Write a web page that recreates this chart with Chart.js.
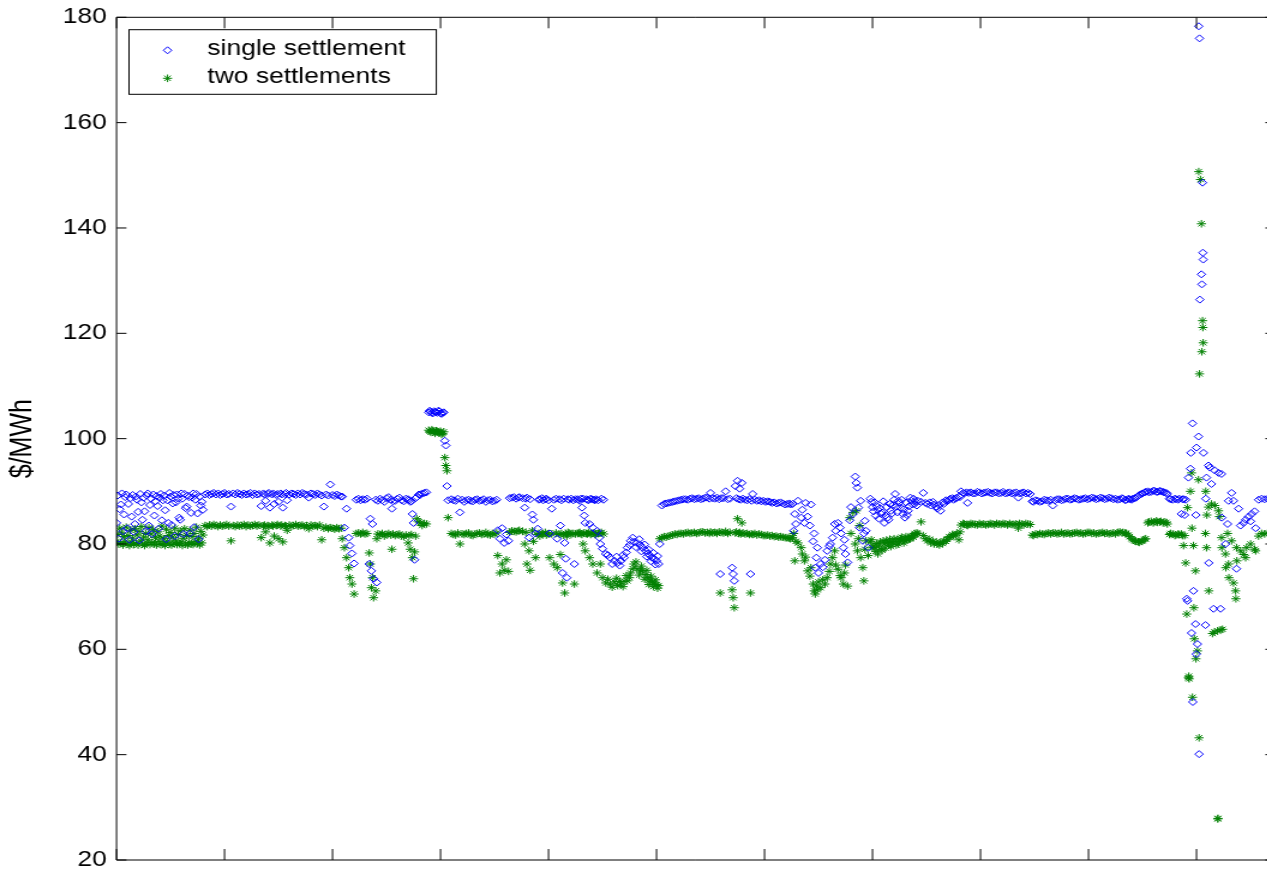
<!DOCTYPE html>
<html>
<head>
<meta charset="utf-8">
<script src="https://cdn.jsdelivr.net/npm/chart.js@4.4.0/dist/chart.umd.min.js"></script>
<style>
html, body { margin: 0; padding: 0; background: #ffffff; width: 1267px; height: 873px; overflow: hidden; }
#wrap { position: absolute; left: 0; top: 0; width: 1070px; height: 873px; transform: scaleX(1.2); transform-origin: 0 0; }
canvas { display: block; }
</style>
</head>
<body>
<div id="wrap"><canvas id="chart" width="1070" height="873"></canvas></div>
<script>
// ================= data: hour index and price ($/MWh) =================
// A: mixed start
const hoursA = [0,1,2,3,4,5,6,7,8,9,10,11,12,13,14,15,16,17,18,19,20,21,22,23,24,25,26,27,28,29,30,31,32,33,34,35,36,37,38,39,
  40,41,42,43,44,45,46,47,48,49,50,51,52,53,54,55,56,57,58,59,60,61,62,63,64,65,66,67,68,69,70,71,72,73,74,75,76,77,78,79,80];
const singleA = [84.0,89.2,81.0,86.6,87.5,89.6,82.4,85.6,88.9,89.4, 83.0,87.6,80.8,88.7,85.2,89.3,82.3,83.8,89.0,88.4,
  86.1,80.7,89.5,87.9,84.6,88.8,86.2,82.4,89.2,89.6, 83.5,87.4,88.6,81.9,89.4,85.4,88.1,89.1,87.2,82.9,
  88.8,89.5,84.5,88.3,89.2,86.4,80.9,88.3,84.0,89.7, 89.0,83.6,87.7,89.3,81.5,87.9,89.4,88.6,85.0,84.6,
  89.6,88.6,81.9,89.5,86.8,87.1,89.2,88.9,82.0,85.9, 88.8,89.6,83.2,88.4,89.5,85.8,80.9,89.0,87.3,88.0, 86.5];
const twoA = [80.5,81.8,80.0,83.0,80.2,82.1,79.8,81.4,80.4,83.2, 80.0,81.6,79.7,82.6,80.3,81.1,79.9,82.9,80.1,81.7,
  79.8,82.4,80.6,83.3,80.0,81.3,79.7,82.0,80.2,80.8, 83.1,79.9,81.9,80.3,82.7,80.0,81.2,79.8,82.3,80.5,
  81.5,79.9,83.4,80.1,81.0,79.7,82.8,80.4,81.6,80.0, 82.2,79.8,81.3,80.2,83.0,80.6,79.9,81.8,80.1,82.5,
  80.4,79.7,81.1,82.9,80.0,81.6,79.8,80.3,82.6,80.0, 81.4,79.9,82.0,80.5,83.2,80.1,81.0,79.8,82.4,80.2, 81.7];

// B: first flat block
const hoursB = [82,84,86,88,90,92,94,96,98,100, 102,104,106,108,110,112,114,116,118,120, 122,124,126,128,130,132,134,136,137,138,
  140,141,142,144,145,146,148,149,150,152, 153,154,156,157,158,160,162,164,166,168, 170,172,174,176,178,180,182,184,186,188,
  190,192,194,196,198,200,202,204,206,208];
const singleB = [89.4,89.6,89.3,89.5,89.7,89.4,89.6,89.3,89.5,89.7, 89.4,89.5,87.1,89.6,89.4,89.7,89.5,89.3,89.6,89.4,
  89.5,89.7,89.3,89.6,89.4,89.5,87.2,89.6,89.4,88.2, 89.5,89.7,86.9,89.4,89.6,87.6,89.3,89.5,88.0,89.6,
  89.4,86.9,89.5,89.7,88.3,89.4,89.6,89.5,89.3,89.6, 89.4,89.7,89.5,89.4,88.8,89.6,89.5,89.3,89.6,89.4,
  89.2,87.1,89.4,89.2,91.3,89.3,89.1,89.4,89.2,89.0];
const twoB = [83.5,83.3,83.6,83.4,83.7,83.5,83.3,83.6,83.4,83.5, 83.7,83.4,80.6,83.5,83.3,83.6,83.4,83.5,83.7,83.3,
  83.6,83.4,83.5,83.7,83.4,83.6,81.2,83.4,83.6,82.3, 83.5,83.3,80.2,83.6,83.4,81.5,83.5,83.7,81.0,83.4,
  83.6,80.4,83.5,83.3,82.6,83.6,83.4,83.5,83.7,83.4, 83.5,83.6,83.3,83.5,82.9,83.6,83.4,83.5,83.3,83.6,
  80.8,83.0,83.2,82.9,83.1,83.0,82.8,83.1,82.9,83.0];

// C: first dips
const hoursC = [209,211,213,215,216,218,220,222,224,226, 228,230,232,234,235,236,237,238,240,241,
  242,244,246,248,250,252,254,255,256,258, 260,262,264,266,268,270,271,272,273,274, 275,276,277,278,280,281,283,285,287];
const singleC = [89.0,83.1,86.7,81.2,79.7,78.2,76.3,88.4,88.6,88.3, 88.5,88.4,88.6,76.2,84.8,74.9,83.8,73.4,88.4,72.7,
  88.2,88.6,88.3,88.0,88.7,88.9,88.4,86.7,88.1,88.2, 88.6,88.8,88.3,88.1,88.6,88.5,88.3,88.0,88.1,85.7,
  84.0,77.0,88.7,88.9,89.4,89.3,89.6,89.7,89.8];
const twoC = [81.0,79.3,77.4,75.5,73.6,72.4,70.5,82.0,82.1,81.9, 82.2,81.9,82.0,78.3,76.2,71.7,73.6,69.8,71.1,81.0,
  81.9,81.8,82.0,81.5,81.8,82.0,81.7,79.0,81.9,81.6, 81.8,81.9,81.5,81.4,81.7,80.2,81.6,79.0,81.8,77.4,
  73.4,78.5,81.5,84.8,84.2,84.0,83.5,83.9,83.8];

// D: short peak near 105
const hoursD = [289,290,291,292,293,294,295,296,297,298, 299,300,301,302,303,304,305,306,307];
const singleD = [105.0,105.3,105.1,104.9,104.8,105.2,105.1,105.0,104.9,105.3, 105.2,104.8,104.7,104.9,105.0,99.6,98.7,91.0,88.3];
const twoD = [101.6,101.4,101.2,101.7,101.5,101.3,101.0,101.5,101.4,101.2, 101.1,101.4,100.8,101.0,101.3,96.4,94.9,93.9,85.0];

// E
const hoursE = [310,312,314,316,318,320,322,324,326,328, 330,332,334,336,338,340,342,344,346,348,
  350,352,353,355,357,359,361,363,364,366, 368,370,372,373];
const singleE = [88.5,88.3,88.2,88.6,86.0,88.4,88.0,88.3,88.4,88.2, 88.1,88.4,88.5,88.2,88.3,88.5,88.0,88.3,88.4,88.1,
  88.2,88.4,82.6,81.0,83.0,80.2,81.8,80.6,88.7,88.8, 88.9,88.6,88.8,88.9];
const twoE = [82.0,81.8,81.7,82.1,80.0,81.9,81.8,82.0,82.1,81.7, 81.6,81.9,82.0,82.1,81.8,81.9,82.2,81.8,81.7,82.0,
  81.9,82.1,77.8,74.5,76.2,75.0,77.0,74.8,82.2,82.5, 82.4,82.3,82.5,82.6];

// F
const hoursF = [376,378,379,380,382,383,385,386,388,390, 391,392,394,395,397,398,400,401,403,405,
  407,408,410,411,412,413,414,415,416,417, 418,419,421,423,424,425];
const singleF = [88.7,86.9,88.6,88.8,81.2,88.5,85.6,84.6,82.0,82.9, 88.4,88.5,88.7,88.3,88.5,88.6,88.3,82.0,86.7,88.4,
  88.6,81.0,88.5,83.5,88.3,74.5,88.6,80.2,77.2,73.6, 88.5,88.4,88.6,88.3,76.2,88.5];
const twoF = [82.4,80.0,82.2,76.2,78.7,75.0,82.5,80.5,77.4,81.8, 82.0,81.5,81.9,82.0,82.2,81.7,81.9,77.4,81.9,76.2,
  82.1,75.5,81.8,78.0,82.0,72.6,81.7,70.7,82.0,81.5, 82.2,82.1,81.8,82.0,72.4,81.9];

// G: low stretch
const hoursG = [427,428,429,430,431,432,433,434,435,436, 437,438,439,440,441,442,443,444,445,446,
  447,448,449,450,451,453,455,457,459,461, 463,464,466,467,469,470,472,473,475,476,
  478,479,481,482,484,485,486,487,489,490, 491,492,493,494,495,496,497,498,499,500, 501,502,503,505,507];
const singleG = [88.5,88.4,88.2,88.6,86.9,88.6,85.4,84.0,88.5,88.4, 88.3,83.8,88.6,88.5,83.1,88.4,88.3,88.5,82.5,88.3,
  81.2,80.0,88.6,79.1,88.4,78.1,77.9,77.4,76.2,76.8, 77.6,76.4,75.9,76.8,77.9,77.4,78.4,79.3,79.8,80.6,
  81.2,80.4,79.4,80.2,80.9,79.8,78.6,79.3,79.9,78.7, 77.6,78.2,78.9,77.8,76.7,77.4,78.3,77.2,76.1,76.8, 77.7,76.2,80.0,87.3,87.6];
const twoG = [82.0,82.1,82.2,81.9,81.8,80.0,82.1,78.7,82.0,81.9, 82.2,77.4,81.8,82.0,76.2,82.1,81.8,81.9,74.5,82.0,
  82.1,76.2,82.2,73.6,81.9,72.6,73.3,72.4,71.8,72.8, 73.5,72.1,72.9,72.4,71.9,72.9,74.0,73.0,73.6,74.5,
  75.3,76.2,76.6,75.3,74.1,74.9,75.8,74.9,73.3,74.2, 75.0,73.6,72.3,73.0,73.9,72.8,71.9,72.6,73.2,72.3, 71.6,72.1,81.0,81.2,81.4];

// H
const hoursH = [509,511,513,515,517,519,521,523,525,527, 529,531,533,535,537,539,541,543,545,547,
  549,550,552,554,556,558,559,560,562,564, 566,568,570,571,572,573,574,575,576,577,
  578,579,580,582,584,586,587,588,589,591, 593,595,597,599,601,603,605,607,609,611, 613,615,617,619,621,623,624];
const singleH = [87.7,87.8,87.9,88.0,88.1,88.2,88.3,88.4,88.5,88.5, 88.4,88.6,88.7,88.5,88.6,88.7,88.5,88.6,88.8,88.8,
  88.6,89.7,88.7,88.6,88.8,88.5,74.3,88.7,88.7,90.0, 88.5,88.6,75.5,74.3,73.0,91.0,88.7,92.0,88.5,90.5,
  88.4,91.6,88.6,88.4,88.3,88.5,74.3,88.2,89.5,88.4, 88.2,88.3,88.1,88.2,88.0,88.1,88.0,87.8,87.9,87.7, 87.8,87.9,87.7,87.5,87.6,87.7,87.5];
const twoH = [81.3,81.5,81.6,81.7,81.9,81.8,82.0,82.0,81.9,82.1, 82.2,82.0,82.1,82.2,82.0,82.1,82.3,82.3,82.1,82.2,
  82.0,82.3,82.1,82.2,82.0,82.3,70.7,82.2,82.1,82.4, 82.0,82.2,71.3,69.8,67.9,82.1,82.3,84.8,82.0,82.2,
  81.9,84.0,82.1,81.9,82.0,81.8,70.7,81.9,81.8,82.0, 81.7,81.9,81.8,81.6,81.6,81.7,81.5,81.6,81.4,81.5, 81.3,81.4,81.3,81.2,81.2,81.1,81.0];

// I: second dip
const hoursI = [626,627,628,629,631,634,635,637,638,640, 642,643,645,646,647,648,649,650,652,654,
  656,658,660,661,663,665,666,668,670,671, 673,674,675,677,679,680,682,684,685,686,
  687,688,689,691,692,693,694,696,698,699, 700,701,702,703,704,705,706,707,708,709,
  710,711,712,713,714,715,716,717,718,719, 720,721,722,723,724,725,726,727,728,729,
  730,731,732,733,734,735,736,737,738,739, 740,741,742];
const singleI = [87.6,82.5,85.7,83.8,88.2,85.0,86.5,84.0,87.8,85.2, 83.5,87.5,80.5,82.0,75.5,77.4,79.3,74.5,76.2,75.6,
  77.0,78.7,79.6,80.0,81.2,83.8,82.5,84.0,83.1,82.0, 79.3,80.8,78.1,76.5,84.5,87.0,85.7,92.8,91.6,90.7,
  86.9,83.1,88.2,80.6,82.0,84.4,82.5,79.3,88.6,88.0, 87.0,86.2,87.9,85.4,87.2,86.5,84.8,86.8,85.7,86.0,
  88.1,84.0,85.4,87.0,85.0,84.6,87.6,86.3,85.8,87.4, 88.4,89.5,87.1,86.0,88.2,87.8,86.9,88.4,85.7,86.6,
  85.0,87.9,85.5,86.3,87.2,88.8,88.2,87.5,88.6,87.6, 88.0,87.3,88.2];
const twoI = [81.2,82.0,76.8,80.5,80.2,79.3,78.1,76.8,77.5,74.9, 73.9,75.5,72.4,71.1,70.5,72.0,71.3,72.8,71.7,73.2,
  72.4,73.6,74.8,76.2,77.4,78.7,76.0,75.2,74.0,73.6, 72.4,74.5,76.0,72.0,85.0,82.0,86.0,80.0,86.3,78.7,
  81.0,83.5,77.4,75.5,73.0,79.0,80.6,77.8,80.4,80.8, 79.3,79.6,79.3,78.6,80.1,78.1,79.6,80.4,79.0,78.8,
  80.6,80.0,79.2,80.7,80.3,79.8,80.9,79.5,80.4,80.2, 81.0,80.5,79.8,80.9,80.0,80.4,81.0,81.3,80.8,80.2,
  80.6,81.4,80.8,81.2,80.9,81.0,81.5,81.6,81.3,82.0, 81.8,82.1,82.0];

// J
const hoursJ = [745,747,749,751,753,754,756,757,759,760, 762,763,765,766,768,769,771,772,774,775,
  777,778,780,781,782,784,785,787,788,789, 791,793,795,797,799,801,803,805,807,809,
  811,813,815,817,819,821,823,825,827,829, 831,833,835,836,838,840,842,844,846];
const singleJ = [88.0,89.7,87.8,87.6,87.9,87.3,88.0,87.5,87.1,86.7, 87.4,86.3,87.9,87.6,88.3,88.1,88.4,88.6,88.7,88.4,
  88.6,88.8,89.0,88.9,90.0,89.7,89.6,89.8,87.8,89.7, 89.8,89.6,89.6,89.9,89.8,89.6,89.7,89.8,89.9,89.7,
  89.6,89.8,89.8,89.6,89.7,89.9,89.6,89.7,89.8,89.6, 89.7,89.8,88.8,89.6,89.7,89.8,89.6,89.7,89.5];
const twoJ = [84.2,81.6,81.0,80.6,80.9,80.2,80.5,80.0,80.4,80.0, 79.8,80.3,80.1,80.6,80.5,80.9,81.4,81.2,81.8,81.6,
  81.7,82.0,80.8,82.3,83.6,83.9,83.8,83.6,83.5,83.7, 83.9,83.8,83.7,83.6,83.9,83.7,83.8,83.6,83.7,83.9,
  83.8,83.6,83.9,83.8,83.7,83.9,83.8,83.6,83.9,83.7, 83.7,83.8,83.0,83.9,83.8,83.6,83.9,83.8,83.7];

// K
const hoursK = [848,849,851,853,855,857,859,861,863,865, 867,869,871,873,875,877,879,881,883,885,
  887,889,891,893,895,897,899,901,903,905, 907,909,911,913,915,917,919,921,923,925,
  927,929,931,932,934,935,937,938,940,941, 943,944,946,947,949,950,952,953,955,956,
  958,960,961,963,964,966,967,969,970,972, 973,975,976,978,980,981,983,984,986,987, 988,989];
const singleK = [88.1,88.0,88.3,88.2,88.0,88.1,88.4,88.3,88.2,88.4, 87.3,88.3,88.5,88.5,88.3,88.4,88.6,88.6,88.4,88.5,
  88.7,88.6,88.4,88.5,88.6,88.7,88.5,88.6,88.8,88.7, 88.5,88.6,88.8,88.7,88.5,88.6,88.8,88.7,88.5,88.6,
  88.4,88.5,88.7,88.6,88.3,88.4,88.6,88.5,88.4,88.6, 88.7,88.8,89.1,89.3,89.5,89.6,89.8,89.9,90.0,89.8,
  89.9,90.1,90.1,89.9,89.9,90.1,90.0,89.9,89.8,89.7, 89.5,88.6,88.5,88.4,88.6,88.5,88.4,88.6,85.7,88.5, 88.5,85.5];
const twoK = [81.7,81.6,81.9,81.8,82.0,81.9,81.8,82.0,82.1,81.9, 82.1,82.1,81.9,82.0,82.2,81.9,82.0,82.1,81.9,82.0,
  82.1,82.2,82.0,82.1,81.9,82.0,82.2,82.2,82.0,82.1, 81.9,82.0,82.1,82.2,82.0,82.1,81.9,82.0,82.1,81.9,
  82.2,82.3,82.1,82.2,82.1,82.0,81.7,81.4,81.0,80.8, 80.6,80.5,80.4,80.3,80.5,80.6,80.9,81.0,84.0,84.2,
  84.3,84.0,84.2,84.4,84.1,84.2,84.3,84.0,84.2,84.1, 83.8,81.8,82.0,81.9,81.6,81.7,81.9,81.8,81.9,81.6, 79.7,81.6];

// L: price spike
const hoursL = [990,991,991.7,992.6,992.9,993.2,994.4,994.8,995.4,995.8, 996.3,996.6,997.2,997.6,998,999.1,999.5,999.8,1000,1000.9,
  1001.9,1002.1,1002.4,1002.8,1003.1,1003.7,1004.6,1005,1005.6,1005.9, 1006.2,1006.5,1008.3,1008.6,1009.3,1009.6,1011.1,1011.4,1012.5,1013.9,
  1014.8,1015.8,1016.7,1017,1019.5,1019.7,1019.9,1020.4,1021.3,1022.3, 1023.2,1023.5,1024.1,1026.9,1027.2,1028.8,1029.7,1030,1032.5,1034.3,
  1036.2,1036.5,1037.1,1037.4,1039,1040.8,1043.6,1045.5,1046.4,1048.3, 1050.1,1051.1,1053.8,1054.8,1057.5,1060.3,1063.1,1065.9,1068.6];
const singleL = [88.4,69.6,69.2,92.6,null,null,94.3,97.3,63.1,null, 102.9,50.0,71.1,null,null,64.8,85.5,59.1,98.3,61.0,
  100.4,178.3,40.1,176.0,126.4,null,131.2,129.3,148.6,135.3, 134.0,97.3,64.6,88.6,92.6,null,94.9,76.4,94.5,91.4,
  null,67.7,94.0,null,null,null,null,93.5,null,67.7, 93.3,85.0,null,80.0,null,83.8,88.2,null,89.7,88.2,
  null,null,75.3,null,86.7,83.5,84.0,84.6,null,85.2, 84.3,85.7,86.2,83.0,88.4,88.6,88.5,88.6,88.5];
const twoL = [76.4,66.7,86.9,54.6,54.9,54.4,90.0,null,93.5,83.0, 50.9,null,79.7,67.9,62.0,74.9,58.2,null,null,59.7,
  92.2,150.7,43.2,112.3,null,149.2,140.8,116.5,122.4,121.1, 118.2,null,82.0,90.0,79.3,85.5,87.0,71.1,null,87.6,
  63.0,null,63.3,87.3,63.5,27.8,27.9,86.3,85.2,63.7, 81.2,79.3,63.8,78.1,75.5,82.0,76.2,73.6,80.6,72.6,
  71.1,69.6,79.3,76.8,null,78.7,78.0,77.4,79.3,null, 80.0,null,79.0,78.7,81.5,82.0,81.9,82.1,82.0];

const yTicks = [20, 40, 60, 80, 100, 120, 140, 160, 180];
const xTicks = [0, 100, 200, 300, 400, 500, 600, 700, 800, 900, 1000];
const seriesLabels = ['single settlement', 'two settlements'];
const yAxisTitle = '$/MWh';

// ================= assemble =================
const hourSets = [hoursA, hoursB, hoursC, hoursD, hoursE, hoursF, hoursG, hoursH, hoursI, hoursJ, hoursK, hoursL];
const singleSets = [singleA, singleB, singleC, singleD, singleE, singleF, singleG, singleH, singleI, singleJ, singleK, singleL];
const twoSets = [twoA, twoB, twoC, twoD, twoE, twoF, twoG, twoH, twoI, twoJ, twoK, twoL];
hourSets.forEach((h, i) => {
  if (h.length !== singleSets[i].length || h.length !== twoSets[i].length) {
    throw new Error('segment ' + i + ' length mismatch: ' + h.length + '/' + singleSets[i].length + '/' + twoSets[i].length);
  }
});
const hours = [].concat(...hourSets);
const singleSettlement = [].concat(...singleSets);
const twoSettlements = [].concat(...twoSets);

const FONT = '"Liberation Sans", Arial, Helvetica, sans-serif';
Chart.defaults.font.family = FONT;

function toPoints(vals) {
  return hours.map((h, i) => ({ x: h, y: vals[i] }));
}

function drawMarker(ctx, style, x, y, r, color) {
  ctx.save();
  ctx.strokeStyle = color;
  ctx.lineWidth = 1;
  ctx.beginPath();
  if (style === 'rectRot') {
    ctx.moveTo(x, y - r); ctx.lineTo(x + r, y); ctx.lineTo(x, y + r); ctx.lineTo(x - r, y); ctx.closePath();
  } else {
    const d = r * Math.SQRT1_2;
    ctx.moveTo(x, y - r); ctx.lineTo(x, y + r);
    ctx.moveTo(x - r, y); ctx.lineTo(x + r, y);
    ctx.moveTo(x - d, y - d); ctx.lineTo(x + d, y + d);
    ctx.moveTo(x - d, y + d); ctx.lineTo(x + d, y - d);
  }
  ctx.stroke();
  ctx.restore();
}

const framePlugin = {
  id: 'matlabFrame',
  afterDatasetsDraw(chart) {
    const { ctx, chartArea: a, scales } = chart;
    const xs = scales.x, ys = scales.y;
    ctx.save();
    ctx.strokeStyle = '#000';
    ctx.lineWidth = 1;
    ctx.beginPath();
    ctx.rect(a.left, a.top, a.right - a.left, a.bottom - a.top);
    yTicks.forEach(v => {
      const py = ys.getPixelForValue(v);
      ctx.moveTo(a.left, py); ctx.lineTo(a.left + 8.3, py);
      ctx.moveTo(a.right, py); ctx.lineTo(a.right - 8.3, py);
    });
    xTicks.forEach(v => {
      const px = xs.getPixelForValue(v);
      ctx.moveTo(px, a.bottom); ctx.lineTo(px, a.bottom - 11);
      ctx.moveTo(px, a.top); ctx.lineTo(px, a.top + 11);
    });
    ctx.stroke();
    ctx.restore();
  }
};

const legendPlugin = {
  id: 'boxLegend',
  afterDraw(chart) {
    const ctx = chart.ctx;
    ctx.save();
    ctx.fillStyle = '#fff';
    ctx.fillRect(107.5, 29.7, 256.1, 64.6);
    ctx.strokeStyle = '#000';
    ctx.lineWidth = 1;
    ctx.strokeRect(107.5, 29.7, 256.1, 64.6);
    const rowsY = [50.3, 78.3];
    chart.data.datasets.forEach((ds, i) => {
      drawMarker(ctx, ds.pointStyle, 139.6, rowsY[i], ds.pointRadius, ds.pointBorderColor);
      ctx.fillStyle = '#000';
      ctx.font = '22px ' + FONT;
      ctx.textAlign = 'left';
      ctx.textBaseline = 'alphabetic';
      ctx.fillText(ds.label, 172.8, rowsY[i] + 4.3);
    });
    ctx.restore();
  }
};

new Chart(document.getElementById('chart'), {
  type: 'scatter',
  data: {
    datasets: [
      {
        label: seriesLabels[0],
        data: toPoints(singleSettlement),
        pointStyle: 'rectRot',
        pointRadius: 3.5,
        pointBorderWidth: 1,
        pointBorderColor: '#0000ff',
        pointBackgroundColor: 'rgba(0,0,0,0)',
        borderColor: '#0000ff',
        backgroundColor: 'rgba(0,0,0,0)',
        showLine: false
      },
      {
        label: seriesLabels[1],
        data: toPoints(twoSettlements),
        pointStyle: 'star',
        pointRadius: 3.8,
        pointBorderWidth: 1,
        pointBorderColor: '#008000',
        pointBackgroundColor: 'rgba(0,0,0,0)',
        borderColor: '#008000',
        backgroundColor: 'rgba(0,0,0,0)',
        showLine: false
      }
    ]
  },
  options: {
    responsive: false,
    maintainAspectRatio: false,
    animation: false,
    devicePixelRatio: 1,
    events: [],
    layout: { padding: { left: 0, right: 7.25, top: 17.3, bottom: 13 } },
    plugins: { legend: { display: false }, tooltip: { enabled: false } },
    scales: {
      x: {
        type: 'linear',
        min: 0,
        max: 1073,
        grid: { display: false, drawTicks: false },
        border: { display: false },
        ticks: { display: false },
        afterFit(s) { s.height = 0; s.paddingLeft = 0; s.paddingRight = 0; }
      },
      y: {
        type: 'linear',
        min: 20,
        max: 180,
        grid: { display: false, drawTicks: false },
        border: { display: false },
        afterBuildTicks(s) { s.ticks = yTicks.map(v => ({ value: v })); },
        ticks: { color: '#000', font: { size: 22, family: FONT }, padding: 8, autoSkip: false },
        title: { display: true, text: yAxisTitle, color: '#000', font: { size: 25, family: FONT }, padding: { top: 4, bottom: 0 } },
        afterFit(s) { s.width = 97.08; s.paddingTop = 0; s.paddingBottom = 0; }
      }
    }
  },
  plugins: [framePlugin, legendPlugin]
});
</script>
</body>
</html>
